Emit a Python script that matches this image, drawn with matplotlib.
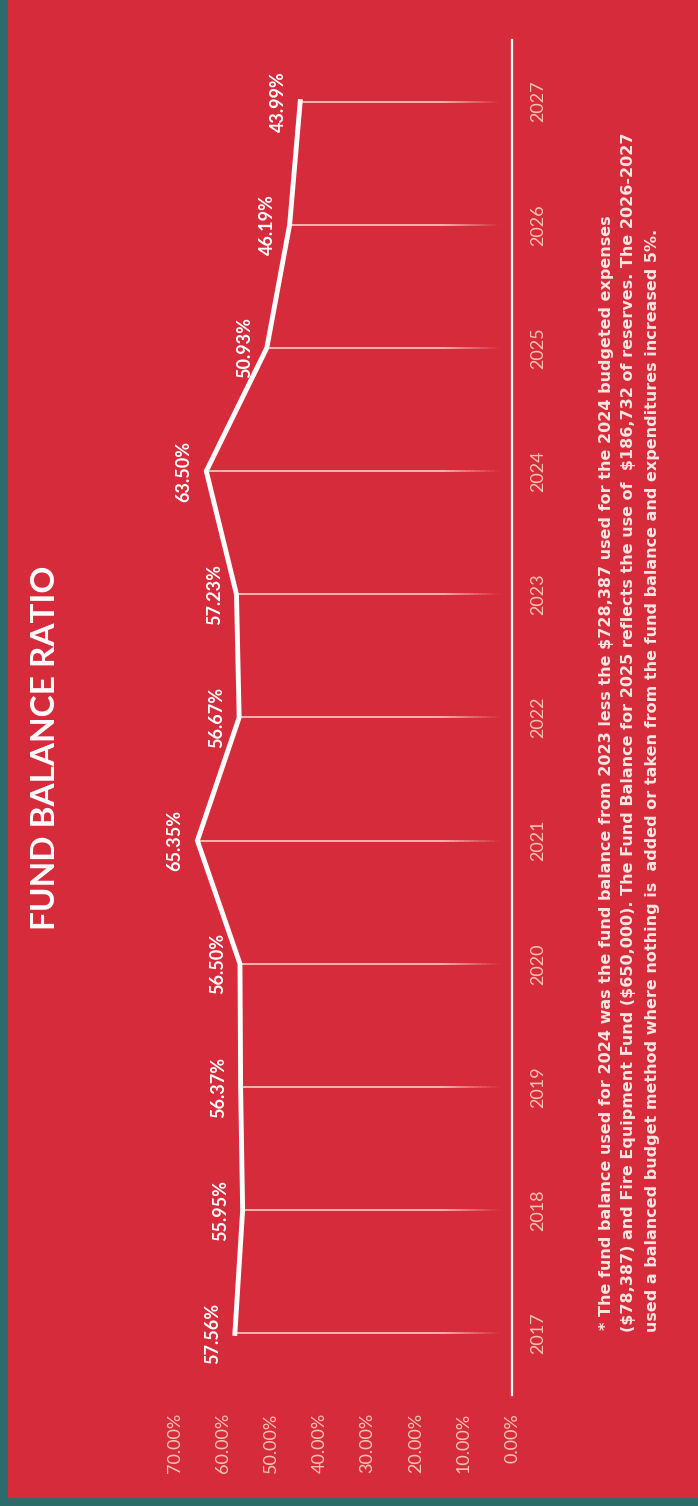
import matplotlib
matplotlib.use("Agg")
import numpy as np
import matplotlib.pyplot as plt
from matplotlib.patches import Rectangle
from matplotlib.collections import LineCollection
from matplotlib.colors import to_rgba

# data
years = [2017, 2018, 2019, 2020, 2021, 2022, 2023, 2024, 2025, 2026, 2027]
ratio = [57.56, 55.95, 56.37, 56.50, 65.35, 56.67, 57.23, 63.50, 50.93, 46.19, 43.99]
value_ticks = [0, 10, 20, 30, 40, 50, 60, 70]
title = "FUND BALANCE RATIO"
notes = [
    "* The fund balance used for 2024 was the fund balance from 2023 less the $728,387 used for the 2024 budgeted expenses",
    "($78,387) and Fire Equipment Fund ($650,000). The Fund Balance for 2025 reflects the use of  $186,732 of reserves. The 2026-2027",
    "used a balanced budget method where nothing is  added or taken from the fund balance and expenditures increased 5%.",
]

W, H = 698, 1506
red = "#d62b3a"
teal = "#2b6b6c"
peach = "#f6c4b2"
plt.rcParams['font.family'] = ['Lato', 'DejaVu Sans']

fig = plt.figure(figsize=(W / 100, H / 100), dpi=100, facecolor=teal)
# red card (photo border shows teal at left and bottom)
fig.patches.append(Rectangle((8 / W, 8 / H), 1, 1, transform=fig.transFigure,
                             facecolor=red, edgecolor='none', zorder=-10))

# chart is drawn rotated: years go up the page, values run right-to-left
ax = fig.add_axes([175 / W, 1 - 1395 / H, (512 - 175) / W, (1395 - 40) / H])
ax.set_zorder(5)
ax.set_facecolor('none')
ax.set_xlim(70, 0)
ax.set_ylim(2016.5, 2027.5)

# drop lines from each point to the axis, fading out near the axis
base = to_rgba('#f8d2c4')
for y, v in zip(years, ratio):
    xs = np.linspace(v, 2.5, 60)
    segs = [[(xs[i], y), (xs[i + 1], y)] for i in range(len(xs) - 1)]
    mid = (xs[:-1] + xs[1:]) / 2
    alpha = np.clip((mid - 2.5) / 12.0, 0, 1) * 0.9
    cols = [(base[0], base[1], base[2], a) for a in alpha]
    ax.add_collection(LineCollection(segs, colors=cols, linewidths=1.3, zorder=2))

ax.plot(ratio, years, color='white', lw=3.5, solid_joinstyle='miter', zorder=3)
for y, v in zip(years, ratio):
    ax.annotate(f"{v:.2f}%", (v, y), xytext=(-16, 0), textcoords='offset points',
                rotation=90, ha='center', va='center', color='white',
                fontsize=13, fontweight='bold')

for s in ['top', 'left', 'bottom']:
    ax.spines[s].set_visible(False)
ax.spines['right'].set_color('white')
ax.spines['right'].set_linewidth(1.6)

ax.set_xticks(value_ticks)
ax.set_xticklabels([f"{v:.2f}%" for v in value_ticks], rotation=90, color=peach, fontsize=13)
ax.set_yticks(years)
ax.set_yticklabels([str(y) for y in years], rotation=90, color=peach, fontsize=13, va='center')
ax.yaxis.tick_right()
ax.tick_params(axis='x', length=0, pad=13)
ax.tick_params(axis='y', length=0, pad=13)

fig.text(46 / W, 1 - 748 / H, title, rotation=90, ha='center', va='center',
         color='white', fontsize=24, fontweight='bold')

note_x = [606, 629, 652]
note_y = [1330, 1332, 1332]
for x, y, t in zip(note_x, note_y, notes):
    fig.text(x / W, 1 - y / H, t, rotation=90, ha='center', va='bottom',
             color='#fbe6e2', fontsize=11.5, fontweight='bold', family='DejaVu Sans')

fig.savefig("out.png", dpi=100, facecolor=teal)
